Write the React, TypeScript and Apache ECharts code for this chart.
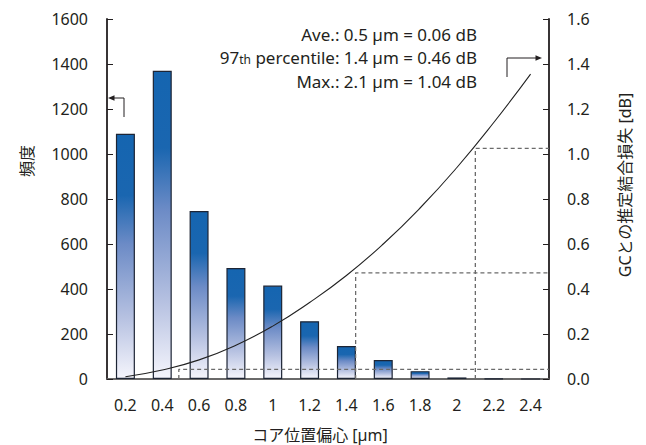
import React, { useEffect, useRef } from "react";
import * as echarts from "echarts";

const categories = ["0.2", "0.4", "0.6", "0.8", "1", "1.2", "1.4", "1.6", "1.8", "2", "2.2", "2.4"];
const counts = [1090, 1370, 747, 493, 415, 257, 147, 84, 35, 7, 2, 0];
const lossDb = [0.01, 0.04, 0.085, 0.15, 0.235, 0.34, 0.46, 0.6, 0.76, 0.94, 1.14, 1.355];
const aveGuide = [[0.49, 0], [0.49, 0.043], [2.5, 0.043]];
const p97Guide = [[1.45, 0], [1.45, 0.472], [2.5, 0.472]];
const maxGuide = [[2.1, 0], [2.1, 1.025], [2.5, 1.025]];
const annotations = [
  "Ave.: 0.5 µm = 0.06 dB",
  "{a|97}{s|th}{a| percentile: 1.4 µm = 0.46 dB}",
  "Max.: 2.1 µm = 1.04 dB",
];

const FONT = "'Noto Sans', 'Noto Sans CJK JP', sans-serif";
const INK = "#231f20";

export default function App() {
  const ref = useRef<HTMLDivElement>(null);
  useEffect(() => {
    document.body.style.margin = "0";
    const chart = echarts.init(ref.current!, null, { renderer: "svg" });
    const barGrad = new echarts.graphic.LinearGradient(0, 0, 0, 1, [
      { offset: 0, color: "#1565b0" },
      { offset: 0.25, color: "#1a66b0" },
      { offset: 0.45, color: "#6c8bc6" },
      { offset: 0.75, color: "#b6c1e1" },
      { offset: 1, color: "#f5f5fc" },
    ]);
    const guideStyle = { color: "#6b6b6b", width: 1.3, type: [4, 3] as any };
    const guide = (data: number[][]) => ({
      type: "line",
      xAxisIndex: 1,
      yAxisIndex: 1,
      data,
      symbol: "none",
      lineStyle: guideStyle,
      z: 5,
      silent: true,
    });
    chart.setOption({
      animation: false,
      textStyle: { fontFamily: FONT },
      grid: { left: 107, right: 97, top: 19, bottom: 66 },
      xAxis: [
        {
          type: "category",
          data: categories,
          boundaryGap: true,
          axisLine: { lineStyle: { color: INK, width: 1.5 } },
          axisTick: { show: false },
          axisLabel: { color: INK, fontSize: 16, margin: 18, fontFamily: FONT },
        },
        {
          type: "value",
          position: "top",
          min: 0.1,
          max: 2.5,
          axisLine: { show: true, lineStyle: { color: "#707070", width: 1.5 } },
          axisTick: { show: false },
          axisLabel: { show: false },
          splitLine: { show: false },
        },
      ],
      yAxis: [
        {
          type: "value",
          min: 0,
          max: 1600,
          interval: 200,
          axisLine: { show: true, lineStyle: { color: INK, width: 1.8 } },
          axisTick: { show: true, inside: true, length: 6, lineStyle: { color: INK } },
          axisLabel: {
            color: INK,
            fontSize: 16,
            margin: 19,
            fontFamily: FONT,
            formatter: (v: number) => String(v),
          },
          splitLine: { show: false },
        },
        {
          type: "value",
          min: 0,
          max: 1.6,
          interval: 0.2,
          position: "right",
          axisLine: { show: true, lineStyle: { color: INK, width: 1.8 } },
          axisTick: { show: true, inside: true, length: 6, lineStyle: { color: INK } },
          axisLabel: {
            color: INK,
            fontSize: 16,
            margin: 18,
            fontFamily: FONT,
            formatter: (v: number) => v.toFixed(1),
          },
          splitLine: { show: false },
        },
      ],
      series: [
        {
          type: "bar",
          data: counts,
          barWidth: 19,
          itemStyle: { color: barGrad, borderColor: "#1d2535", borderWidth: 1.2 },
          z: 2,
        },
        {
          type: "line",
          yAxisIndex: 1,
          data: lossDb,
          smooth: true,
          symbol: "none",
          lineStyle: { color: "#222", width: 1.1 },
          z: 6,
        },
        guide(aveGuide),
        guide(p97Guide),
        guide(maxGuide),
      ],
      graphic: [
        ...annotations.map((t, i) => ({
          type: "text",
          x: 477,
          y: 34 + i * 23.5,
          style: {
            text: t,
            align: "right",
            verticalAlign: "middle",
            fontSize: 17,
            fontFamily: FONT,
            fill: INK,
            rich: {
              a: { fontSize: 17, fontFamily: FONT, fill: INK, color: INK },
              s: { fontSize: 12, fontFamily: FONT, fill: INK, color: INK, padding: [4, 0, 0, 0] },
            },
          },
        })),
        {
          type: "polyline",
          shape: { points: [[124, 117], [124, 98], [112, 98]] },
          style: { stroke: INK, lineWidth: 1, fill: "none" },
        },
        {
          type: "polygon",
          shape: { points: [[108, 98], [114.5, 95.3], [114.5, 100.7]] },
          style: { fill: INK },
        },
        {
          type: "polyline",
          shape: { points: [[507, 77], [507, 58], [537, 58]] },
          style: { stroke: INK, lineWidth: 1, fill: "none" },
        },
        {
          type: "polygon",
          shape: { points: [[542, 58], [535.5, 55.3], [535.5, 60.7]] },
          style: { fill: INK },
        },
        {
          type: "text",
          x: 27,
          y: 161,
          rotation: Math.PI / 2,
          style: { text: "頻度", align: "center", verticalAlign: "middle", fontSize: 16, fontFamily: FONT, fill: INK },
        },
        {
          type: "text",
          x: 625,
          y: 185,
          rotation: Math.PI / 2,
          style: {
            text: "GCとの推定結合損失 [dB]",
            align: "center",
            verticalAlign: "middle",
            fontSize: 16,
            fontFamily: FONT,
            fill: INK,
          },
        },
        {
          type: "text",
          x: 320,
          y: 435,
          style: {
            text: "コア位置偏心 [µm]",
            align: "center",
            verticalAlign: "middle",
            fontSize: 16,
            fontFamily: FONT,
            fill: INK,
          },
        },
      ],
    });
    return () => chart.dispose();
  }, []);
  return <div ref={ref} style={{ width: 646, height: 445 }} />;
}
